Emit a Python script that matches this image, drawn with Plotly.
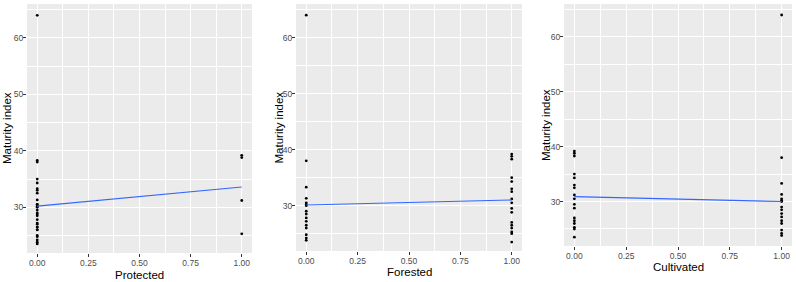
import plotly.graph_objects as go

# ---- data ----
maturity = [39.2, 38.8, 38.3, 35.0, 34.3, 33.0, 32.5, 31.2, 30.5, 29.5, 28.8, 27.0, 26.5, 26.0, 25.3, 25.0, 23.5,
            64.0, 38.0, 33.3, 31.3, 30.5, 30.2, 30.0, 29.0, 28.5, 27.8, 27.2, 26.5, 26.0, 24.8, 24.2, 23.8]
forested = [1] * 17 + [0] * 16
protected = [1, 1, 0, 0, 0, 0, 0, 1, 0, 0, 0, 0, 0, 0, 1, 0, 0] + [0] * 16
cultivated = [0] * 17 + [1] * 16

predictor_names = ["Protected", "Forested", "Cultivated"]
predictor_values = [protected, forested, cultivated]
fit_at_0 = [30.2, 30.1, 30.9]
fit_at_1 = [33.6, 31.0, 30.0]
x_ticks = [0, 0.25, 0.5, 0.75, 1.0]
x_tick_labels = ["0.00", "0.25", "0.50", "0.75", "1.00"]
y_ticks = [30, 40, 50, 60]

W, H = 796, 282
# pixel boxes of each panel: (left, right, top, bottom)
boxes = [(27, 252, 4, 253), (296, 522, 4, 251), (564, 792, 4, 246)]
ytitle_x = [6.5, 278, 546]
xtitle_y = [274.5, 271.5, 267]

fig = go.Figure()
annotations = []
for i, (name, xs, f0, f1, box) in enumerate(zip(predictor_names, predictor_values, fit_at_0, fit_at_1, boxes)):
    xa = "x" if i == 0 else f"x{i+1}"
    ya = "y" if i == 0 else f"y{i+1}"
    fig.add_trace(go.Scatter(x=xs, y=maturity, mode="markers", xaxis=xa, yaxis=ya,
                             marker=dict(color="black", size=2.8), showlegend=False, hoverinfo="skip"))
    fig.add_trace(go.Scatter(x=[0, 1], y=[f0, f1], mode="lines", xaxis=xa, yaxis=ya,
                             line=dict(color="#3366FF", width=1.1), showlegend=False))
    l, r, t, b = box
    xkey = "xaxis" if i == 0 else f"xaxis{i+1}"
    ykey = "yaxis" if i == 0 else f"yaxis{i+1}"
    fig.update_layout(**{
        xkey: dict(domain=[l / W, r / W], range=[-0.05, 1.05], anchor=ya,
                   tickvals=x_ticks, ticktext=x_tick_labels,
                   showgrid=True, gridcolor="white", gridwidth=1,
                   minor=dict(dtick=0.125, tick0=0.125, showgrid=True, gridcolor="white", gridwidth=0.5),
                   ticks="outside", ticklen=3, tickcolor="#333333", tickwidth=1,
                   ticklabelstandoff=-1,
                   tickfont=dict(family="Liberation Sans", size=8.5, color="#4d4d4d"),
                   zeroline=False, showline=False, fixedrange=True, automargin=False),
        ykey: dict(domain=[1 - b / H, 1 - t / H], range=[21.9, 66.0], anchor=xa,
                   tickvals=y_ticks,
                   showgrid=True, gridcolor="white", gridwidth=1,
                   minor=dict(dtick=10, tick0=25, showgrid=True, gridcolor="white", gridwidth=0.5),
                   ticks="outside", ticklen=3, tickcolor="#333333", tickwidth=1,
                   ticklabelstandoff=-2,
                   tickfont=dict(family="Liberation Sans", size=8.5, color="#4d4d4d"),
                   zeroline=False, showline=False, fixedrange=True, automargin=False),
    })
    annotations.append(dict(text=name, x=(l + r) / 2 / W, y=1 - xtitle_y[i] / H, xref="paper", yref="paper",
                            showarrow=False, xanchor="center", yanchor="middle",
                            font=dict(family="Liberation Sans", size=11.5, color="black")))
    annotations.append(dict(text="Maturity index", x=ytitle_x[i] / W, y=1 - (t + b) / 2 / H,
                            xref="paper", yref="paper", showarrow=False, textangle=-90,
                            xanchor="center", yanchor="middle",
                            font=dict(family="Liberation Sans", size=11.5, color="black")))

fig.update_layout(width=W, height=H, margin=dict(l=0, r=0, t=0, b=0),
                  paper_bgcolor="white", plot_bgcolor="#EBEBEB", annotations=annotations)

fig.write_html("out.html", config={"displayModeBar": False},
               post_script="document.body.style.margin='0px';")
